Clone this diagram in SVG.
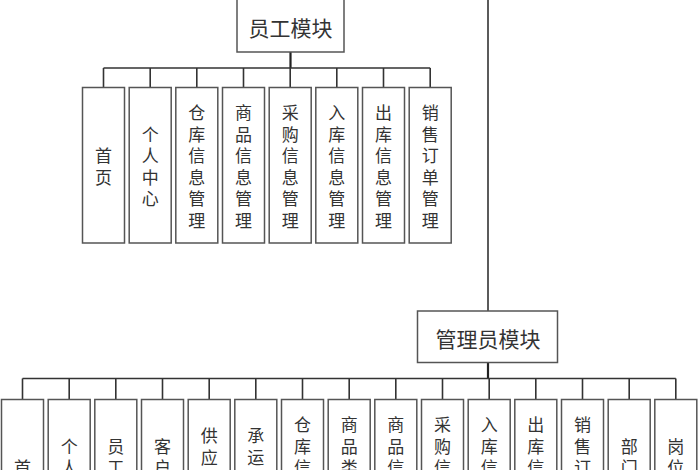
<svg xmlns="http://www.w3.org/2000/svg" width="700" height="470" viewBox="0 0 700 470">
<style>
.box{fill:#fff;stroke:#555;stroke-width:1.5}
.ln{fill:none;stroke:#333;stroke-width:1.6}
.stem{fill:none;stroke:#222;stroke-width:2.2}
.t{font-family:"Noto Sans CJK SC","Noto Sans",sans-serif;font-size:17px;fill:#333;text-anchor:middle;dominant-baseline:central}
.h{font-family:"Noto Sans CJK SC","Noto Sans",sans-serif;font-size:21px;fill:#333;text-anchor:middle;dominant-baseline:central}
</style>
<rect width="700" height="470" fill="#fff"/>
<g id="connectors">
<path class="ln" d="M290.5 0V1M488 0V311"/>
<path class="stem" d="M290.5 52V68M488 362.5V378.5"/>
<path class="ln" d="M103.5 68H430.2M103.5 68V87.5M150.2 68V87.5M196.8 68V87.5M243.5 68V87.5M290.2 68V87.5M336.8 68V87.5M383.5 68V87.5M430.2 68V87.5"/>
<path class="ln" d="M22.5 378.5H675.8M22.5 378.5V399.5M69.2 378.5V399.5M115.8 378.5V399.5M162.5 378.5V399.5M209.2 378.5V399.5M255.8 378.5V399.5M302.5 378.5V399.5M349.2 378.5V399.5M395.8 378.5V399.5M442.5 378.5V399.5M489.2 378.5V399.5M535.8 378.5V399.5M582.5 378.5V399.5M629.2 378.5V399.5M675.8 378.5V399.5"/>
</g>
<g id="staff">
<rect class="box" x="237" y="-2" width="107" height="54"/>
<text class="h" x="290.5" y="27">员工模块</text>
</g>
<g id="s1"><rect class="box" x="82.5" y="87.5" width="42" height="155.5"/><text class="t" x="103.5"><tspan x="103.5" y="154.3">首</tspan><tspan x="103.5" y="175.8">页</tspan></text></g>
<g id="s2"><rect class="box" x="129.2" y="87.5" width="42" height="155.5"/><text class="t"><tspan x="150.2" y="132.8">个</tspan><tspan x="150.2" y="154.3">人</tspan><tspan x="150.2" y="175.8">中</tspan><tspan x="150.2" y="197.3">心</tspan></text></g>
<g id="s3"><rect class="box" x="175.8" y="87.5" width="42" height="155.5"/><text class="t"><tspan x="196.8" y="111.3">仓</tspan><tspan x="196.8" y="132.8">库</tspan><tspan x="196.8" y="154.3">信</tspan><tspan x="196.8" y="175.8">息</tspan><tspan x="196.8" y="197.3">管</tspan><tspan x="196.8" y="218.8">理</tspan></text></g>
<g id="s4"><rect class="box" x="222.5" y="87.5" width="42" height="155.5"/><text class="t"><tspan x="243.5" y="111.3">商</tspan><tspan x="243.5" y="132.8">品</tspan><tspan x="243.5" y="154.3">信</tspan><tspan x="243.5" y="175.8">息</tspan><tspan x="243.5" y="197.3">管</tspan><tspan x="243.5" y="218.8">理</tspan></text></g>
<g id="s5"><rect class="box" x="269.2" y="87.5" width="42" height="155.5"/><text class="t"><tspan x="290.2" y="111.3">采</tspan><tspan x="290.2" y="132.8">购</tspan><tspan x="290.2" y="154.3">信</tspan><tspan x="290.2" y="175.8">息</tspan><tspan x="290.2" y="197.3">管</tspan><tspan x="290.2" y="218.8">理</tspan></text></g>
<g id="s6"><rect class="box" x="315.8" y="87.5" width="42" height="155.5"/><text class="t"><tspan x="336.8" y="111.3">入</tspan><tspan x="336.8" y="132.8">库</tspan><tspan x="336.8" y="154.3">信</tspan><tspan x="336.8" y="175.8">息</tspan><tspan x="336.8" y="197.3">管</tspan><tspan x="336.8" y="218.8">理</tspan></text></g>
<g id="s7"><rect class="box" x="362.5" y="87.5" width="42" height="155.5"/><text class="t"><tspan x="383.5" y="111.3">出</tspan><tspan x="383.5" y="132.8">库</tspan><tspan x="383.5" y="154.3">信</tspan><tspan x="383.5" y="175.8">息</tspan><tspan x="383.5" y="197.3">管</tspan><tspan x="383.5" y="218.8">理</tspan></text></g>
<g id="s8"><rect class="box" x="409.2" y="87.5" width="42" height="155.5"/><text class="t"><tspan x="430.2" y="111.3">销</tspan><tspan x="430.2" y="132.8">售</tspan><tspan x="430.2" y="154.3">订</tspan><tspan x="430.2" y="175.8">单</tspan><tspan x="430.2" y="197.3">管</tspan><tspan x="430.2" y="218.8">理</tspan></text></g>
<g id="admin">
<rect class="box" x="417.5" y="311" width="140" height="51.5"/>
<text class="h" x="488" y="337.5">管理员模块</text>
</g>
<g id="a1"><rect class="box" x="1.5" y="399.5" width="42" height="160"/><text class="t"><tspan x="22.5" y="466.3">首</tspan></text></g>
<g id="a2"><rect class="box" x="48.2" y="399.5" width="42" height="160"/><text class="t"><tspan x="69.2" y="444.8">个</tspan><tspan x="69.2" y="466.3">人</tspan></text></g>
<g id="a3"><rect class="box" x="94.8" y="399.5" width="42" height="160"/><text class="t"><tspan x="115.8" y="444.8">员</tspan><tspan x="115.8" y="466.3">工</tspan></text></g>
<g id="a4"><rect class="box" x="141.5" y="399.5" width="42" height="160"/><text class="t"><tspan x="162.5" y="444.8">客</tspan><tspan x="162.5" y="466.3">户</tspan></text></g>
<g id="a5"><rect class="box" x="188.2" y="399.5" width="42" height="160"/><text class="t"><tspan x="209.2" y="434">供</tspan><tspan x="209.2" y="455.5">应</tspan></text></g>
<g id="a6"><rect class="box" x="234.8" y="399.5" width="42" height="160"/><text class="t"><tspan x="255.8" y="434">承</tspan><tspan x="255.8" y="455.5">运</tspan></text></g>
<g id="a7"><rect class="box" x="281.5" y="399.5" width="42" height="160"/><text class="t"><tspan x="302.5" y="423.3">仓</tspan><tspan x="302.5" y="444.8">库</tspan><tspan x="302.5" y="466.3">信</tspan></text></g>
<g id="a8"><rect class="box" x="328.2" y="399.5" width="42" height="160"/><text class="t"><tspan x="349.2" y="423.3">商</tspan><tspan x="349.2" y="444.8">品</tspan><tspan x="349.2" y="466.3">类</tspan></text></g>
<g id="a9"><rect class="box" x="374.8" y="399.5" width="42" height="160"/><text class="t"><tspan x="395.8" y="423.3">商</tspan><tspan x="395.8" y="444.8">品</tspan><tspan x="395.8" y="466.3">信</tspan></text></g>
<g id="a10"><rect class="box" x="421.5" y="399.5" width="42" height="160"/><text class="t"><tspan x="442.5" y="423.3">采</tspan><tspan x="442.5" y="444.8">购</tspan><tspan x="442.5" y="466.3">信</tspan></text></g>
<g id="a11"><rect class="box" x="468.2" y="399.5" width="42" height="160"/><text class="t"><tspan x="489.2" y="423.3">入</tspan><tspan x="489.2" y="444.8">库</tspan><tspan x="489.2" y="466.3">信</tspan></text></g>
<g id="a12"><rect class="box" x="514.8" y="399.5" width="42" height="160"/><text class="t"><tspan x="535.8" y="423.3">出</tspan><tspan x="535.8" y="444.8">库</tspan><tspan x="535.8" y="466.3">信</tspan></text></g>
<g id="a13"><rect class="box" x="561.5" y="399.5" width="42" height="160"/><text class="t"><tspan x="582.5" y="423.3">销</tspan><tspan x="582.5" y="444.8">售</tspan><tspan x="582.5" y="466.3">订</tspan></text></g>
<g id="a14"><rect class="box" x="608.2" y="399.5" width="42" height="160"/><text class="t"><tspan x="629.2" y="444.8">部</tspan><tspan x="629.2" y="466.3">门</tspan></text></g>
<g id="a15"><rect class="box" x="654.8" y="399.5" width="42" height="160"/><text class="t"><tspan x="675.8" y="444.8">岗</tspan><tspan x="675.8" y="466.3">位</tspan></text></g>
</svg>
